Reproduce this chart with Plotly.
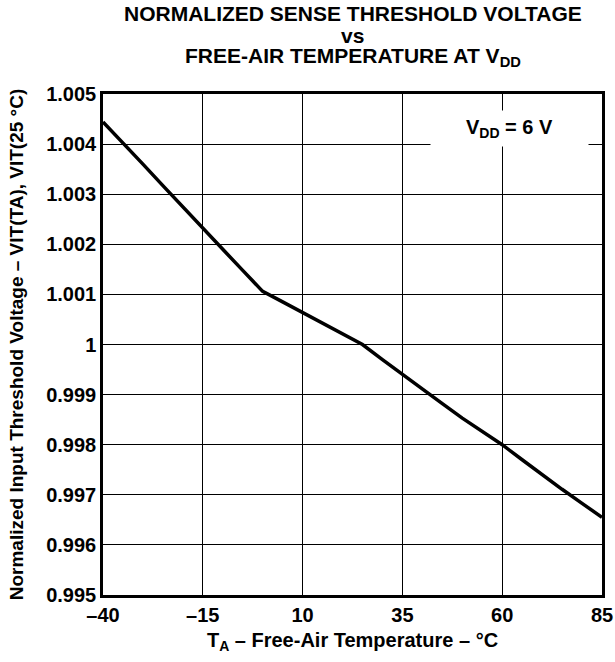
import plotly.graph_objects as go

temps = [-40, -35, -30, -25, -20, -15, -10, -5, 0, 5, 10, 15, 20, 25, 30, 35, 40, 45, 50, 55, 60, 65, 70, 75, 80, 85]
vit_norm = [1.00444, 1.00403, 1.00360, 1.00317, 1.00274, 1.00232, 1.00190, 1.00148, 1.00106, 1.00085, 1.00064,
            1.00043, 1.00022, 1.00000, 0.99970, 0.99940, 0.99911, 0.99882, 0.99853, 0.99826, 0.99800, 0.99770,
            0.99740, 0.99711, 0.99683, 0.99655]
x_ticks = [-40, -15, 10, 35, 60, 85]
x_tick_text = ["–40", "–15", "10", "35", "60", "85"]
y_ticks = [0.995, 0.996, 0.997, 0.998, 0.999, 1.000, 1.001, 1.002, 1.003, 1.004, 1.005]
y_tick_text = ["0.995", "0.996", "0.997", "0.998", "0.999", "1", "1.001", "1.002", "1.003", "1.004", "1.005"]
title_lines = ["NORMALIZED SENSE THRESHOLD VOLTAGE", "vs", "FREE-AIR TEMPERATURE AT V<sub>DD</sub>"]
title_line_y = [1.160, 1.117, 1.074]

FONT = "Liberation Sans, Arial, sans-serif"

fig = go.Figure()
fig.add_trace(go.Scatter(x=temps, y=vit_norm, mode="lines",
                         line=dict(color="black", width=3.5), showlegend=False))

for txt, ty in zip(title_lines, title_line_y):
    fig.add_annotation(x=0.5, y=ty, xref="paper", yref="paper", xanchor="center", yanchor="middle",
                       text="<b>" + txt + "</b>", showarrow=False,
                       font=dict(family=FONT, size=21, color="black"))

fig.add_annotation(x=61.9, y=1.00431, xref="x", yref="y",
                   text="<b>V<sub>DD</sub> = 6 V</b>", showarrow=False,
                   font=dict(family=FONT, size=20, color="black"),
                   bgcolor="white", width=155, height=33)

fig.update_layout(
    width=615, height=662,
    margin=dict(l=103, r=13, t=94, b=67),
    paper_bgcolor="white", plot_bgcolor="white",
    font=dict(family=FONT, color="black"),
)
fig.update_xaxes(range=[-40, 85], tickvals=x_ticks, ticktext=x_tick_text,
                 showgrid=True, gridcolor="black", gridwidth=1,
                 showline=True, linecolor="black", linewidth=2.5, mirror=True,
                 ticks="", zeroline=False, automargin=False,
                 tickfont=dict(family=FONT, size=20, color="black", weight="bold"),
                 title=dict(text="<b>T<sub>A</sub> – Free-Air Temperature – °C</b>",
                            font=dict(family=FONT, size=20, color="black"), standoff=9))
fig.update_yaxes(range=[0.995, 1.005], tickvals=y_ticks, ticktext=y_tick_text,
                 showgrid=True, gridcolor="black", gridwidth=1,
                 showline=True, linecolor="black", linewidth=2.5, mirror=True,
                 ticks="", zeroline=False, automargin=False,
                 tickfont=dict(family=FONT, size=20, color="black", weight="bold"),
                 title=dict(text="<b>Normalized Input Threshold Voltage – VIT(TA), VIT(25 °C)</b>",
                            font=dict(family=FONT, size=19, color="black"), standoff=18))

fig.write_html("out.html", config={"displayModeBar": False},
               post_script="document.body.style.margin='0';document.body.style.padding='0';")
